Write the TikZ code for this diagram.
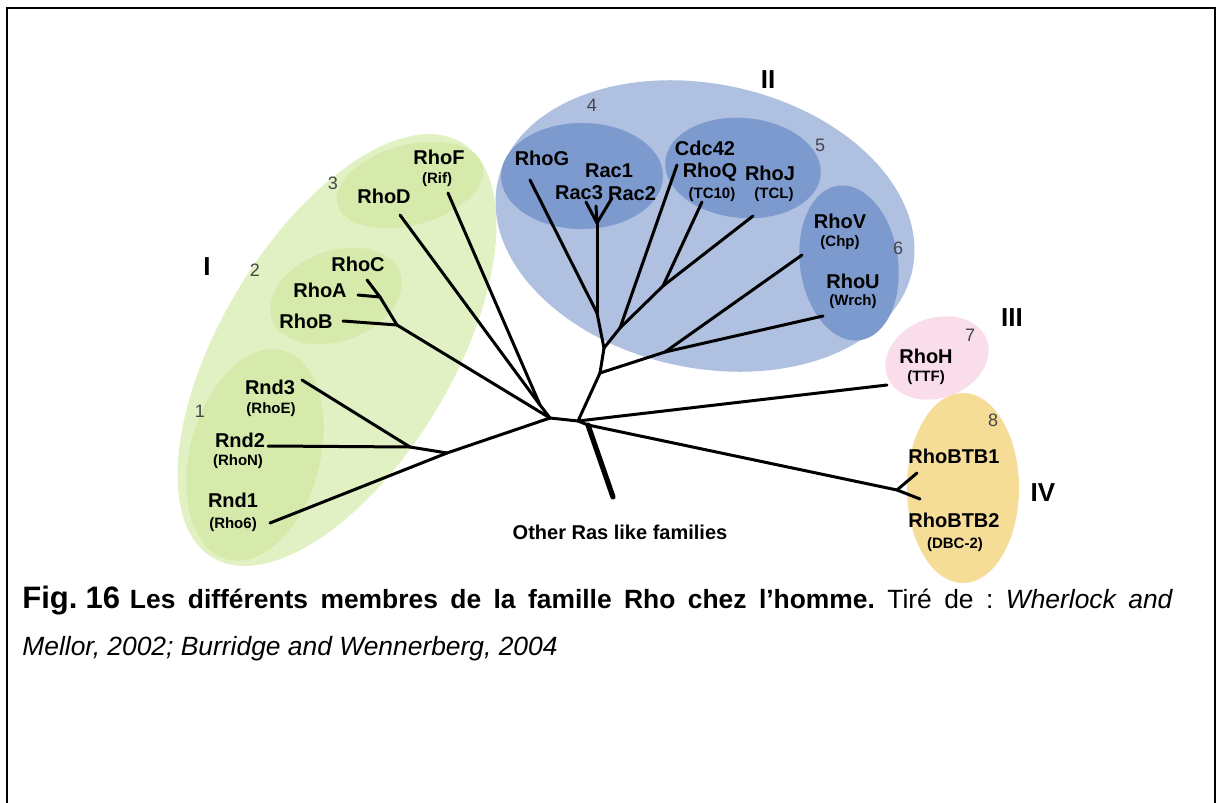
\documentclass[tikz,border=0pt]{standalone}
\usepackage{fontspec}
\setmainfont{Liberation Sans}
\definecolor{gI}{RGB}{226,241,196}
\definecolor{gIsub}{RGB}{213,234,171}
\definecolor{bII}{RGB}{176,192,224}
\definecolor{bIIsub}{RGB}{124,154,205}
\definecolor{pIII}{RGB}{250,221,235}
\definecolor{oIV}{RGB}{245,221,152}
\definecolor{numgray}{RGB}{70,70,70}
\begin{document}
\begin{tikzpicture}[x=0.5pt,y=-0.5pt,
  br/.style={line width=1.5pt, line cap=round, line join=round},
  lab/.style={font=\bfseries\fontsize{10}{11}\selectfont, inner sep=0pt},
  sub/.style={font=\bfseries\fontsize{7.5}{8}\selectfont, inner sep=0pt},
  num/.style={font=\fontsize{9}{10}\selectfont, text=numgray, inner sep=0pt},
  roman/.style={font=\bfseries\fontsize{13}{14}\selectfont, inner sep=0pt}]
\useasboundingbox (0,0) rectangle (1217,803);
% frame
\draw[line width=1pt] (7,803) -- (7,8) -- (1215,8) -- (1215,803);

% ---- clade ellipses ----
\fill[gI] (337,350) ellipse [x radius=121pt, y radius=58pt, rotate=59];
\fill[gIsub] (410,185) ellipse [x radius=37.5pt, y radius=20pt, rotate=15];
\fill[gIsub] (336,296) ellipse [x radius=34pt, y radius=22.5pt, rotate=20];
\fill[gIsub] (255,455) ellipse [x radius=54pt, y radius=32.5pt, rotate=75];
\fill[bII] (705,226) ellipse [x radius=106pt, y radius=71pt, rotate=-12];
\fill[bIIsub] (582,176) ellipse [x radius=40.5pt, y radius=26.5pt];
\fill[bIIsub] (743,168) ellipse [x radius=39pt, y radius=25pt, rotate=-5];
\fill[bIIsub] (849,263) ellipse [x radius=24.5pt, y radius=39pt, rotate=8];
\fill[pIII] (937,358) ellipse [x radius=26.5pt, y radius=20pt, rotate=20];
\fill[oIV] (963,488) ellipse [x radius=28pt, y radius=47.5pt];

% ---- group numbers ----
\node[roman] (rI) at (207,267) {I};
\node[roman] (rII) at (768,80) {II};
\node[roman] (rIII) at (1012,318) {III};
\node[roman] (rIV) at (1043,493) {IV};
\node[num] (n1) at (200,411) {1};
\node[num] (n2) at (255,270) {2};
\node[num] (n3) at (333,183) {3};
\node[num] (n4) at (592,105) {4};
\node[num] (n5) at (820,145) {5};
\node[num] (n6) at (898,248) {6};
\node[num] (n7) at (970,335) {7};
\node[num] (n8) at (993,420) {8};

% ---- labels ----
\node[lab] (RhoF) at (439,157) {RhoF};
\node[sub] (Rif) at (437,180) {(Rif)};
\node[lab] (RhoD) at (384,196) {RhoD};
\node[lab] (RhoC) at (358,264) {RhoC};
\node[lab] (RhoA) at (320,290) {RhoA};
\node[lab] (RhoB) at (306,321) {RhoB};
\node[lab] (Rnd3) at (270,387) {Rnd3};
\node[sub] (RhoE) at (271,410) {(RhoE)};
\node[lab] (Rnd2) at (240,440) {Rnd2};
\node[sub] (RhoN) at (238,462) {(RhoN)};
\node[lab] (Rnd1) at (233,500) {Rnd1};
\node[sub] (Rho6) at (233,525) {(Rho6)};
\node[lab] (RhoG) at (542,158) {RhoG};
\node[lab] (Rac1) at (609,171) {Rac1};
\node[lab] (Rac3) at (579,193) {Rac3};
\node[lab] (Rac2) at (632,194) {Rac2};
\node[lab] (Cdc42) at (705,148) {Cdc42};
\node[lab] (RhoQ) at (710,172) {RhoQ};
\node[sub] (TC10) at (712,195) {(TC10)};
\node[lab] (RhoJ) at (770,173) {RhoJ};
\node[sub] (TCL) at (774,195) {(TCL)};
\node[lab] (RhoV) at (840,221) {RhoV};
\node[sub] (Chp) at (840,243) {(Chp)};
\node[lab] (RhoU) at (853,281) {RhoU};
\node[sub] (Wrch) at (853,302) {(Wrch)};
\node[lab] (RhoH) at (926,356) {RhoH};
\node[sub] (TTF) at (926,378) {(TTF)};
\node[lab] (BTB1) at (954,456) {RhoBTB1};
\node[lab] (BTB2) at (954,520) {RhoBTB2};
\node[sub] (DBC) at (955,545) {(DBC-2)};
\node[lab] (other) at (620,532) {Other Ras like families};

% ---- tree coordinates ----
\coordinate (hubL) at (550,418);
\coordinate (hubR) at (578,421);
\coordinate (hubR2) at (588,425);
% class I
\coordinate (eD) at (400,215);
\coordinate (eF) at (448,193);
\coordinate (jDF) at (540,405);
\coordinate (eC) at (367,280);
\coordinate (eA) at (358,295);
\coordinate (jAC) at (380,297);
\coordinate (eB) at (343,321);
\coordinate (jAB) at (397,325);
\coordinate (jR) at (447,453);
\coordinate (j23) at (410,447);
\coordinate (e1) at (270,523);
\coordinate (e2) at (268,446);
\coordinate (e3) at (302,380);
% class II
\coordinate (c1) at (600,373);
\coordinate (c2) at (665,352);
\coordinate (eV) at (802,255);
\coordinate (eU) at (823,316);
\coordinate (c3) at (604,348);
\coordinate (c4) at (597,313);
\coordinate (eG) at (530,180);
\coordinate (c7) at (597,223);
\coordinate (eR3) at (586,202);
\coordinate (eR1) at (596,206);
\coordinate (eR2) at (612,198);
\coordinate (c5) at (620,328);
\coordinate (eCdc) at (677,165);
\coordinate (c6) at (663,286);
\coordinate (eQ) at (702,202);
\coordinate (eJ) at (753,216);
% classes III, IV
\coordinate (eH) at (887,385);
\coordinate (jBTB) at (897,490);
\coordinate (eB1) at (917,473);
\coordinate (eB2) at (920,499);
\coordinate (eOther) at (613,497);

% ---- branches ----
\draw[br] (hubL) -- (hubR) -- (hubR2);
\draw[br] (eD) -- (jDF);
\draw[br] (eF) -- (jDF);
\draw[br] (jDF) -- (hubL);
\draw[br] (eC) -- (jAC);
\draw[br] (eA) -- (jAC);
\draw[br] (jAC) -- (jAB);
\draw[br] (eB) -- (jAB);
\draw[br] (jAB) -- (hubL);
\draw[br] (hubL) -- (jR);
\draw[br] (jR) -- (e1);
\draw[br] (jR) -- (j23);
\draw[br] (j23) -- (e2);
\draw[br] (j23) -- (e3);
\draw[br] (hubR) -- (c1);
\draw[br] (c1) -- (c2);
\draw[br] (c2) -- (eV);
\draw[br] (c2) -- (eU);
\draw[br] (c1) -- (c3);
\draw[br] (c3) -- (c4);
\draw[br] (c4) -- (eG);
\draw[br] (c4) -- (c7);
\draw[br] (c7) -- (eR3);
\draw[br] (c7) -- (eR1);
\draw[br] (c7) -- (eR2);
\draw[br] (c3) -- (c5);
\draw[br] (c5) -- (eCdc);
\draw[br] (c5) -- (c6);
\draw[br] (c6) -- (eQ);
\draw[br] (c6) -- (eJ);
\draw[br] (hubR) -- (eH);
\draw[br] (hubR2) -- (jBTB);
\draw[br] (jBTB) -- (eB1);
\draw[br] (jBTB) -- (eB2);
\draw[br, line width=2.6pt] (hubR2) -- (eOther);

% ---- caption ----
\node[anchor=base west, inner sep=0pt] (cap1) at (22,608) {\frenchspacing\makebox[575pt][s]{\bfseries\fontsize{15.5}{18}\selectfont Fig.\hspace{4pt}16\hspace{5pt}\fontsize{13.2}{16}\selectfont Les différents membres de la famille Rho chez l’homme. \mdseries Tiré de : \itshape Wherlock and}};
\node[anchor=base west, inner sep=0pt, font=\itshape\fontsize{13.2}{16}\selectfont] (cap2) at (22,655) {Mellor, 2002; Burridge and Wennerberg, 2004};
\end{tikzpicture}
\end{document}
